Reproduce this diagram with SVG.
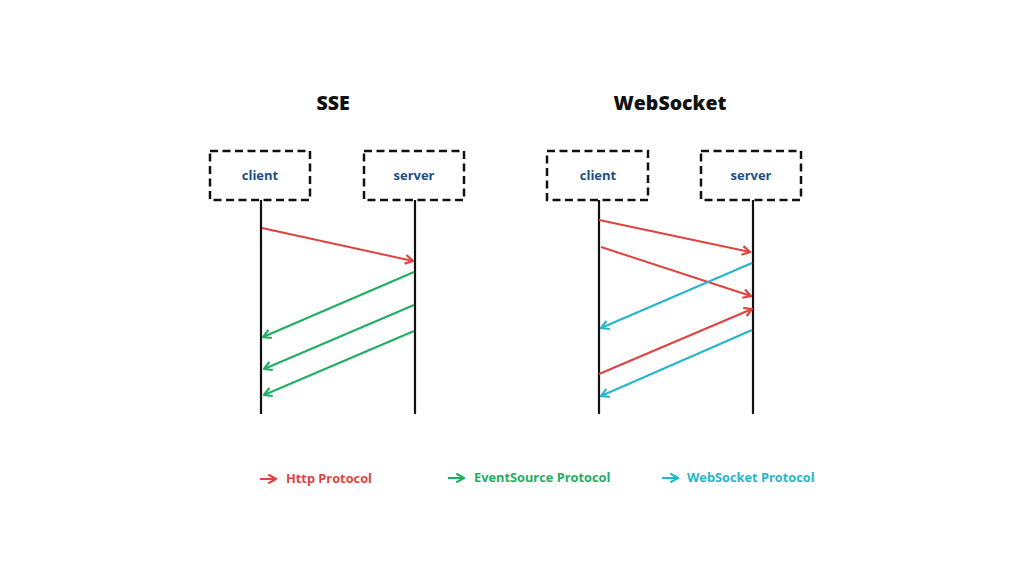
<svg xmlns="http://www.w3.org/2000/svg" width="1024" height="576" viewBox="0 0 1024 576">
<style>
.box{fill:#fff;stroke:#111;stroke-width:2.5;stroke-dasharray:8 4.5}
.life{stroke:#111;stroke-width:2.2}
.lbl{font-family:"Open Sans","Liberation Sans",sans-serif;font-weight:700;font-size:13px;fill:#1d4f86;text-anchor:middle}
.title{font-family:"Open Sans","Liberation Sans",sans-serif;font-weight:800;font-size:19.5px;fill:#111;text-anchor:middle}
.leg{font-family:"Open Sans","Liberation Sans",sans-serif;font-weight:700;font-size:12.8px}
.r{stroke:#e0433f;stroke-width:2;fill:none}
.g{stroke:#1fae62;stroke-width:2;fill:none}
.c{stroke:#27b4cd;stroke-width:2;fill:none}
</style>
<defs>
<marker id="ar" viewBox="0 0 10 10" refX="9" refY="5" markerWidth="5.5" markerHeight="5.5" orient="auto" markerUnits="strokeWidth"><path d="M2,1 L9,5 L2,9" fill="none" stroke="#e0433f" stroke-width="2"/></marker>
<marker id="ag" viewBox="0 0 10 10" refX="9" refY="5" markerWidth="5.5" markerHeight="5.5" orient="auto" markerUnits="strokeWidth"><path d="M2,1 L9,5 L2,9" fill="none" stroke="#1fae62" stroke-width="2"/></marker>
<marker id="ac" viewBox="0 0 10 10" refX="9" refY="5" markerWidth="5.5" markerHeight="5.5" orient="auto" markerUnits="strokeWidth"><path d="M2,1 L9,5 L2,9" fill="none" stroke="#27b4cd" stroke-width="2"/></marker>
</defs>
<rect width="1024" height="576" fill="#fff"/>
<text class="title" x="333" y="110">SSE</text>
<text class="title" x="670" y="110">WebSocket</text>
<g id="sse-client"><line class="life" x1="261" y1="200" x2="261" y2="414"/><rect class="box" x="210" y="151" width="100" height="49"/><text class="lbl" x="260" y="180">client</text></g>
<g id="sse-server"><line class="life" x1="415" y1="200" x2="415" y2="414"/><rect class="box" x="364" y="151" width="100" height="49"/><text class="lbl" x="414" y="180">server</text></g>
<g id="ws-client"><line class="life" x1="599" y1="200" x2="599" y2="414"/><rect class="box" x="547" y="151" width="101" height="49"/><text class="lbl" x="598" y="180">client</text></g>
<g id="ws-server"><line class="life" x1="753" y1="200" x2="753" y2="414"/><rect class="box" x="701" y="151" width="100" height="49"/><text class="lbl" x="751" y="180">server</text></g>
<g id="connectors">
<line class="r" x1="262" y1="228" x2="413" y2="261" marker-end="url(#ar)"/>
<line class="g" x1="414" y1="272" x2="263" y2="337" marker-end="url(#ag)"/>
<line class="g" x1="414" y1="305" x2="264" y2="369" marker-end="url(#ag)"/>
<line class="g" x1="414" y1="331" x2="264" y2="395" marker-end="url(#ag)"/>
<line class="r" x1="599" y1="220" x2="750" y2="252" marker-end="url(#ar)"/>
<line class="r" x1="601" y1="247" x2="751" y2="296" marker-end="url(#ar)"/>
<line class="c" x1="752" y1="263" x2="601" y2="328" marker-end="url(#ac)"/>
<line class="r" x1="599" y1="374" x2="752" y2="309" marker-end="url(#ar)"/>
<line class="c" x1="752" y1="330" x2="601" y2="396" marker-end="url(#ac)"/>
</g>
<g id="legend">
<line class="r" x1="260" y1="479" x2="276" y2="479" marker-end="url(#ar)"/>
<text class="leg" x="286" y="483" fill="#e0433f">Http Protocol</text>
<line class="g" x1="448" y1="478" x2="464" y2="478" marker-end="url(#ag)"/>
<text class="leg" x="474" y="482" fill="#1fae62">EventSource Protocol</text>
<line class="c" x1="662" y1="478" x2="678" y2="478" marker-end="url(#ac)"/>
<text class="leg" x="687" y="482" fill="#27b4cd">WebSocket Protocol</text>
</g>
</svg>
